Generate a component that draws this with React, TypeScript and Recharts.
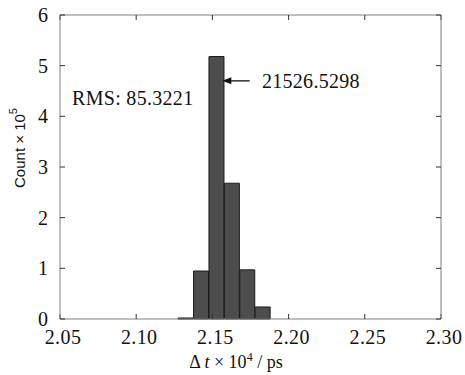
import React from "react";
import {
  ComposedChart,
  Bar,
  Line,
  XAxis,
  YAxis,
  ReferenceLine,
  ReferenceDot,
  Label,
} from "recharts";

const binCenters = [2.1325, 2.1427, 2.1528, 2.1629, 2.173, 2.1831];
const counts = [0.02, 0.947, 5.18, 2.68, 0.97, 0.237];
const xTicks = [2.05, 2.1, 2.15, 2.2, 2.25, 2.3];
const yTicks = [0, 1, 2, 3, 4, 5, 6];
const rmsLabel = "RMS: 85.3221";
const peakLabel = "21526.5298";
const rmsPos = { x: 2.0579, y: 4.36 };
const arrowFrom = { x: 2.1745, y: 4.7 };
const arrowTo = { x: 2.1565, y: 4.7 };
const peakPos = { x: 2.1825, y: 4.7 };

const data = binCenters.map((c, i) => ({ x: c, count: counts[i] }));

const FONT = "'Liberation Serif', 'DejaVu Serif', serif";
const SANS = "'Liberation Sans', Arial, sans-serif";
const AXIS_COLOR = "#808080";

const fmtX = (v: number) => v.toFixed(2);

const TextShape = (text: string) => (props: any) => (
  <text
    x={props.cx}
    y={props.cy}
    dominantBaseline="central"
    fontFamily={FONT}
    fontSize={20}
    letterSpacing={0.3}
    fill="#111"
  >
    {text}
  </text>
);

const ArrowShape = (props: any) => {
  const { x1, y1, x2, y2 } = props;
  return (
    <g>
      <line x1={x1} y1={y1} x2={x2 + 6} y2={y2} stroke="#111" strokeWidth={1.3} />
      <polygon
        points={`${x2},${y2} ${x2 + 9},${y2 - 3.5} ${x2 + 9},${y2 + 3.5}`}
        fill="#111"
      />
    </g>
  );
};

const noTick = () => <g />;

export default function App() {
  return (
    <div style={{ position: "absolute", left: 0, top: 0, background: "#fff" }}>
      <ComposedChart
        width={465}
        height={375}
        data={data}
        margin={{ top: 14, right: 23, bottom: 0, left: 20 }}
        barCategoryGap={0}
        barGap={0}
      >
        <XAxis
          dataKey="x"
          type="number"
          domain={[2.05, 2.3]}
          ticks={xTicks}
          tickFormatter={fmtX}
          allowDataOverflow
          height={56}
          tickSize={-5}
          tickMargin={16}
          stroke={AXIS_COLOR}
          tickLine={{ stroke: "#333" }}
          tick={{ fontFamily: FONT, fontSize: 20, fill: "#111", letterSpacing: 0.4, dx: 3 }}
        >
          <Label
            content={(p: any) => {
              const vb = p.viewBox;
              const cx = 236;
              const cy = vb.y + vb.height - 7;
              return (
                <text x={cx} y={cy} textAnchor="middle" fontFamily={FONT} fontSize={18} fill="#111">
                  <tspan>Δ </tspan>
                  <tspan fontStyle="italic">t</tspan>
                  <tspan> × 10</tspan>
                  <tspan dy={-7} fontSize={12}>4</tspan>
                  <tspan dy={7}> / ps</tspan>
                </text>
              );
            }}
          />
        </XAxis>
        <XAxis
          xAxisId="top"
          dataKey="x"
          orientation="top"
          type="number"
          domain={[2.05, 2.3]}
          ticks={xTicks}
          allowDataOverflow
          height={1}
          tickSize={-5}
          tick={noTick}
          stroke={AXIS_COLOR}
          tickLine={{ stroke: "#333" }}
        />
        <YAxis
          type="number"
          domain={[0, 6]}
          ticks={yTicks}
          width={40}
          tickSize={-5}
          tickMargin={17}
          stroke={AXIS_COLOR}
          tickLine={{ stroke: "#333" }}
          tick={{ fontFamily: FONT, fontSize: 20, fill: "#111" }}
        >
          <Label
            content={(p: any) => {
              const cx = 19;
              const cy = 148;
              return (
                <text
                  x={cx}
                  y={cy}
                  textAnchor="middle"
                  dominantBaseline="central"
                  transform={`rotate(-90 ${cx} ${cy})`}
                  fontFamily={SANS}
                  fontSize={15}
                  fill="#111"
                >
                  <tspan>Count × 10</tspan>
                  <tspan dy={-6} fontSize={11}>5</tspan>
                </text>
              );
            }}
          />
        </YAxis>
        <YAxis
          yAxisId="right"
          orientation="right"
          type="number"
          domain={[0, 6]}
          ticks={yTicks}
          allowDataOverflow
          width={1}
          tickSize={-5}
          tick={noTick}
          stroke={AXIS_COLOR}
          tickLine={{ stroke: "#333" }}
        />
        <Bar
          dataKey="count"
          fill="#4d4d4d"
          stroke="#1a1a1a"
          strokeWidth={1}
          isAnimationActive={false}
        />
        <Line
          xAxisId="top"
          yAxisId="right"
          dataKey="count"
          stroke="none"
          dot={false}
          activeDot={false}
          legendType="none"
          isAnimationActive={false}
        />
        <ReferenceLine
          segment={[arrowFrom, arrowTo]}
          shape={ArrowShape}
          ifOverflow="visible"
        />
        <ReferenceDot x={rmsPos.x} y={rmsPos.y} r={0} shape={TextShape(rmsLabel)} ifOverflow="visible" />
        <ReferenceDot x={peakPos.x} y={peakPos.y} r={0} shape={TextShape(peakLabel)} ifOverflow="visible" />
      </ComposedChart>
    </div>
  );
}
